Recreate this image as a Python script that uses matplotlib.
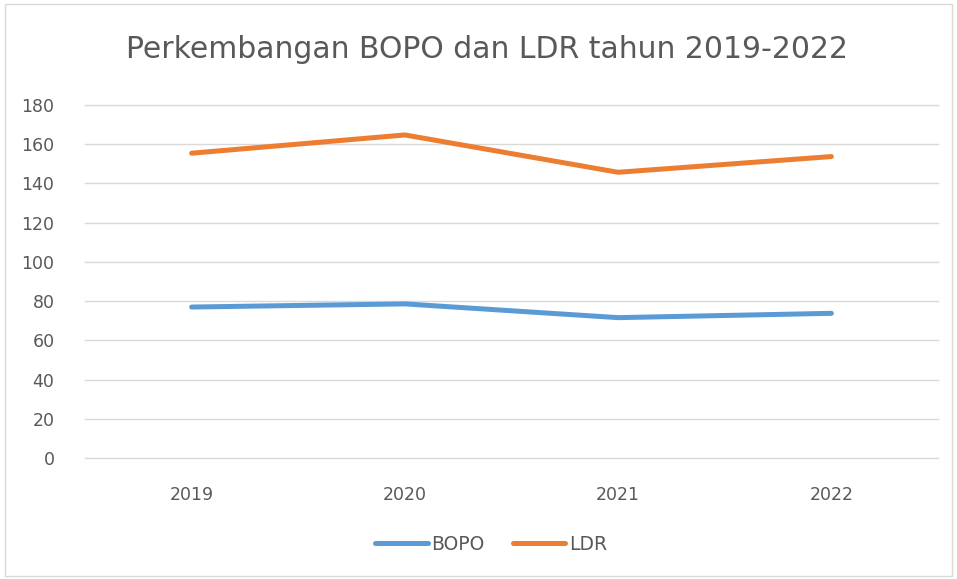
import matplotlib.pyplot as plt
import numpy as np

years = ['2019', '2020', '2021', '2022']
bopo = [77.0, 78.6, 71.6, 73.8]
ldr = [155.3, 164.6, 145.6, 153.6]
y_ticks = [0, 20, 40, 60, 80, 100, 120, 140, 160, 180]

plt.rcParams['font.family'] = ['DejaVu Sans']

fig = plt.figure(figsize=(9.57, 5.79), dpi=100)
# chart area border
fig.patches.append(plt.Rectangle((0.005, 0.005), 0.99, 0.988, transform=fig.transFigure,
                                 fill=False, edgecolor='#D9D9D9', linewidth=1))
ax = fig.add_axes([85 / 957, 1 - 458.3 / 579, 853 / 957, 353.6 / 579])

x = np.arange(len(years))
ax.plot(x, bopo, color='#5B9BD5', lw=3.6, solid_capstyle='round', label='BOPO')
ax.plot(x, ldr, color='#ED7D31', lw=3.6, solid_capstyle='round', label='LDR')

ax.set_xlim(-0.5, len(years) - 0.5)
ax.set_ylim(0, 180)
ax.set_yticks(y_ticks)
ax.set_xticks(x)
ax.set_xticklabels(years)
ax.yaxis.grid(True, color='#D9D9D9', lw=1)
for gl in ax.get_ygridlines():
    gl.set_clip_on(False)
ax.set_axisbelow(True)
for s in ax.spines.values():
    s.set_visible(False)
ax.tick_params(length=0, colors='#595959', labelsize=12.5)
ax.tick_params(axis='y', pad=22)
ax.tick_params(axis='x', pad=20)

fig.text(487 / 957, 1 - 50 / 579, 'Perkembangan BOPO dan LDR tahun 2019-2022',
         ha='center', va='center', fontsize=21.5, color='#595959')

fig.legend(loc='center', bbox_to_anchor=(491 / 957, 1 - 544 / 579), ncol=2, frameon=False,
           fontsize=13.5, labelcolor='#595959', handlelength=2.8, handletextpad=0.2,
           columnspacing=1.5)

fig.savefig('out.png', dpi=100)
